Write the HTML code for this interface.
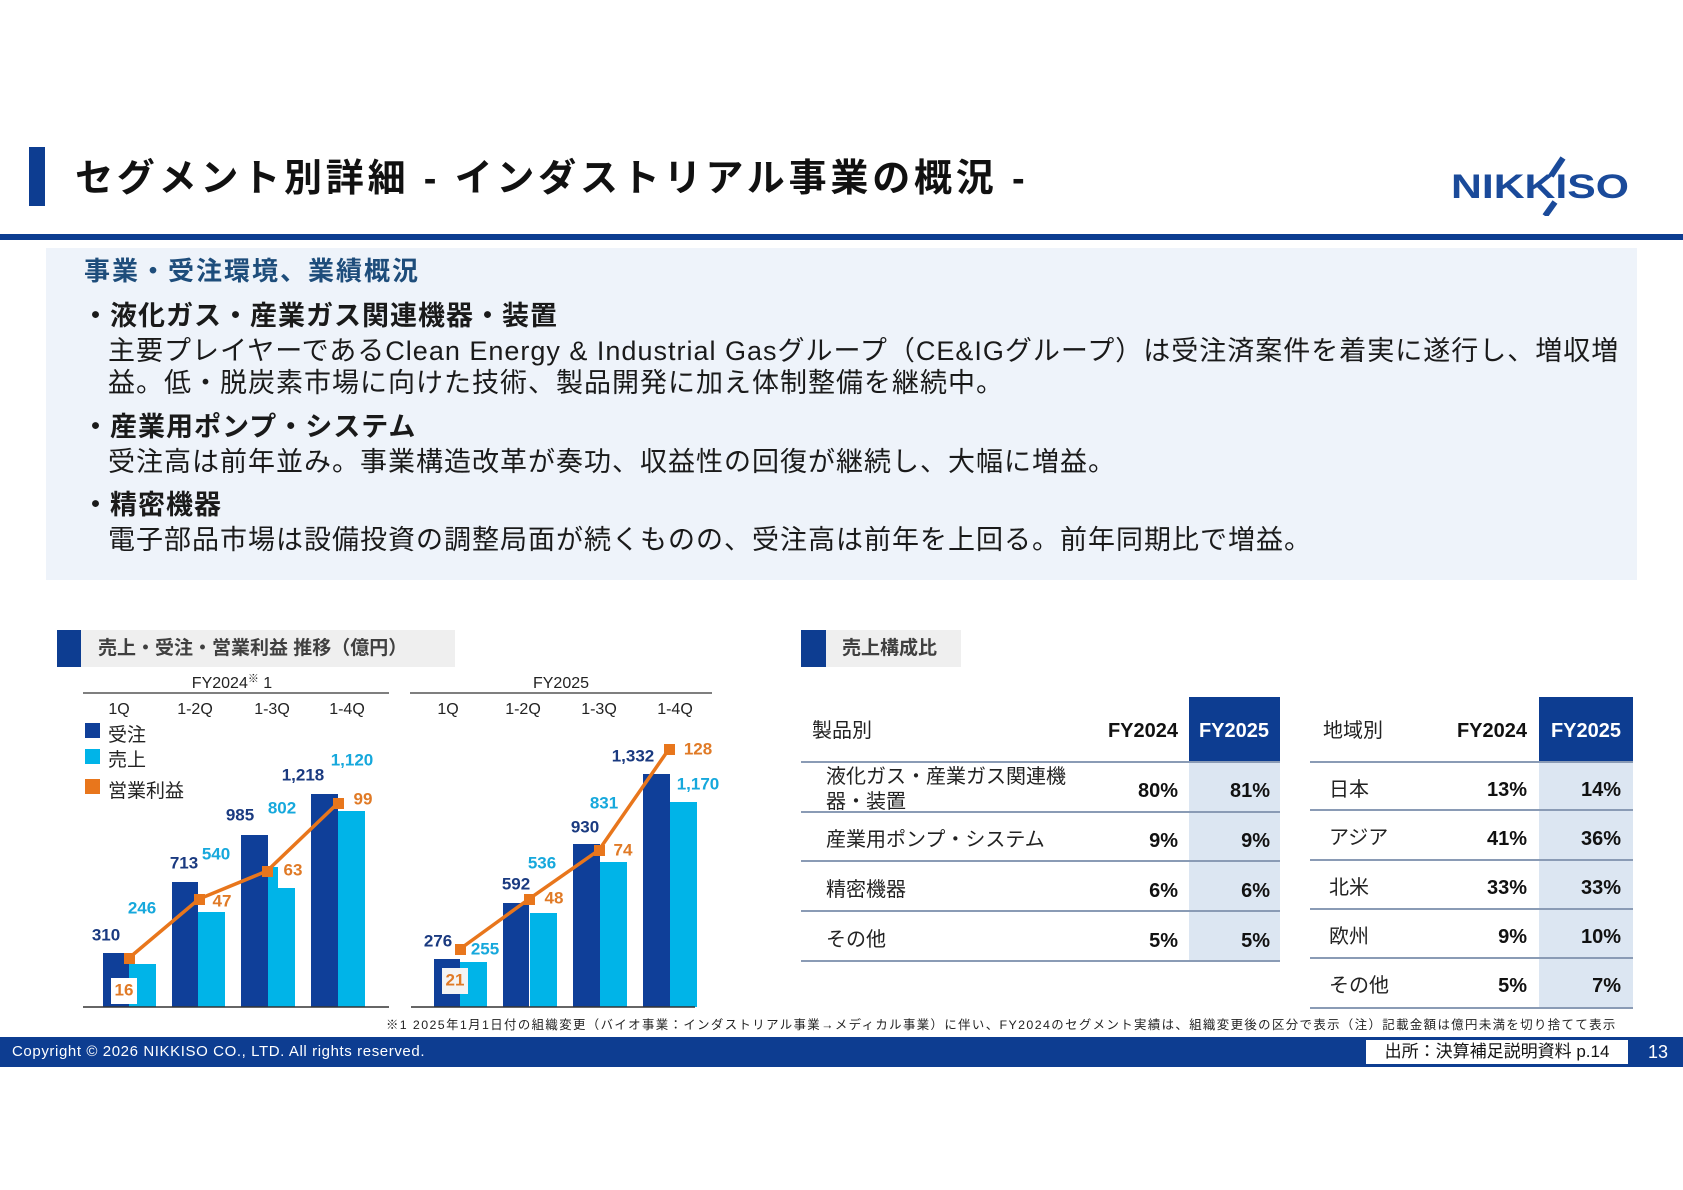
<!DOCTYPE html>
<html><head><meta charset="utf-8">
<style>
*{margin:0;padding:0;box-sizing:border-box}
body{width:1683px;height:1190px;background:#fff;position:relative;overflow:hidden;font-family:"Liberation Sans","Noto Sans CJK JP",sans-serif;color:#1a1a1a}
.a{position:absolute;white-space:nowrap}
.b{font-weight:bold}
</style></head><body>
<div class="a" style="left:29px;top:147px;width:16px;height:59px;background:#0d3d91"></div>
<div class="a b" style="left:75px;top:154px;font-size:38px;line-height:50px;color:#111;letter-spacing:3.8px">セグメント別詳細 - インダストリアル事業の概況 -</div>
<div class="a" style="left:1451px;top:156px;width:180px;height:60px">
<svg width="180" height="60"><text x="0" y="42" font-family="Liberation Sans" font-weight="bold" font-size="34" fill="#1a4a9a" textLength="178" lengthAdjust="spacingAndGlyphs">NIKKISO</text><line x1="112" y1="2" x2="100" y2="20" stroke="#1a4a9a" stroke-width="6"/><line x1="104" y1="46" x2="94" y2="60" stroke="#1a4a9a" stroke-width="6"/></svg></div>
<div class="a" style="left:0;top:234px;width:1683px;height:6px;background:#0d3d91"></div>
<div class="a" style="left:46px;top:248px;width:1591px;height:332px;background:#eef3fa"></div>
<div class="a b" style="left:84px;top:255px;font-size:26px;line-height:32px;color:#1e4d7b;letter-spacing:2px">事業・受注環境、業績概況</div>
<div class="a" style="left:82px;top:300px;font-size:27px;line-height:32px;letter-spacing:1px">
<div class="b" style="position:absolute;top:0">・液化ガス・産業ガス関連機器・装置</div>
<div style="position:absolute;top:35px;left:26px">主要プレイヤーであるClean Energy &amp; Industrial Gasグループ（CE&amp;IGグループ）は受注済案件を着実に遂行し、増収増</div>
<div style="position:absolute;top:67px;left:26px">益。低・脱炭素市場に向けた技術、製品開発に加え体制整備を継続中。</div>
<div class="b" style="position:absolute;top:111px">・産業用ポンプ・システム</div>
<div style="position:absolute;top:146px;left:26px">受注高は前年並み。事業構造改革が奏功、収益性の回復が継続し、大幅に増益。</div>
<div class="b" style="position:absolute;top:189px">・精密機器</div>
<div style="position:absolute;top:224px;left:26px">電子部品市場は設備投資の調整局面が続くものの、受注高は前年を上回る。前年同期比で増益。</div>
</div>
<div class="a" style="left:57px;top:630px;width:398px;height:37px;background:#efefef"></div>
<div class="a" style="left:57px;top:630px;width:24px;height:37px;background:#0d3d91"></div>
<div class="a b" style="left:98px;top:636px;font-size:19px;line-height:25px;color:#404040">売上・受注・営業利益 推移（億円）</div>
<div class="a" style="left:801px;top:630px;width:160px;height:37px;background:#efefef"></div>
<div class="a" style="left:801px;top:630px;width:25px;height:37px;background:#0d3d91"></div>
<div class="a b" style="left:842px;top:636px;font-size:19px;line-height:25px;color:#404040">売上構成比</div>

<svg class="a" style="left:0;top:0" width="760" height="1030" font-family="Liberation Sans, Noto Sans CJK JP, sans-serif">
<g font-size="16" fill="#222" text-anchor="middle">
<text x="232" y="688">FY2024<tspan font-size="11" dy="-6">※</tspan><tspan dy="6"> 1</tspan></text>
<text x="561" y="688">FY2025</text>
<text x="119" y="714">1Q</text><text x="195" y="714">1-2Q</text><text x="272" y="714">1-3Q</text><text x="347" y="714">1-4Q</text>
<text x="448" y="714">1Q</text><text x="523" y="714">1-2Q</text><text x="599" y="714">1-3Q</text><text x="675" y="714">1-4Q</text>
</g>
<line x1="83" y1="693" x2="389" y2="693" stroke="#333" stroke-width="1.3"/>
<line x1="410" y1="693" x2="712" y2="693" stroke="#333" stroke-width="1.3"/>
<rect x="85" y="723" width="15" height="15" fill="#0f3f99"/>
<rect x="85" y="749" width="15" height="15" fill="#00b4e8"/>
<rect x="85" y="779" width="15" height="15" fill="#e8761c"/>
<g font-size="19" fill="#222"><text x="108" y="741">受注</text><text x="108" y="766">売上</text><text x="108" y="797">営業利益</text></g>
<g fill="#0f3f99">
<rect x="103" y="953" width="26" height="54"/><rect x="172" y="882" width="26" height="125"/><rect x="241" y="835" width="27" height="172"/><rect x="311" y="794" width="27" height="213"/>
<rect x="434" y="959" width="26" height="48"/><rect x="503" y="903" width="26" height="104"/><rect x="573" y="844" width="27" height="163"/><rect x="643" y="774" width="27" height="233"/>
</g>
<g fill="#00b4e8">
<rect x="129" y="964" width="27" height="43"/><rect x="198" y="912" width="27" height="95"/><rect x="268" y="867" width="27" height="140"/><rect x="338" y="811" width="27" height="196"/>
<rect x="460" y="962" width="27" height="45"/><rect x="530" y="913" width="27" height="94"/><rect x="600" y="862" width="27" height="145"/><rect x="670" y="802" width="27" height="205"/>
</g>
<line x1="83" y1="1007" x2="389" y2="1007" stroke="#333" stroke-width="1.5"/>
<line x1="411" y1="1007" x2="695" y2="1007" stroke="#333" stroke-width="1.5"/>
<rect x="111" y="978" width="26" height="26" fill="#fff"/>
<rect x="442" y="968" width="26" height="26" fill="#f4f4f4"/>
<rect x="278" y="858" width="28" height="30" fill="#fff"/>
<polyline points="129,958 199,899 267,871 338,803" fill="none" stroke="#e8761c" stroke-width="3.5"/>
<polyline points="460,949 529,899 599,850 669,749" fill="none" stroke="#e8761c" stroke-width="3.5"/>
<g fill="#e8761c">
<rect x="124" y="953" width="11" height="11"/><rect x="194" y="894" width="11" height="11"/><rect x="262" y="866" width="11" height="11"/><rect x="333" y="798" width="11" height="11"/>
<rect x="455" y="944" width="11" height="11"/><rect x="524" y="894" width="11" height="11"/><rect x="594" y="845" width="11" height="11"/><rect x="664" y="744" width="11" height="11"/>
</g>
<g font-size="17" font-weight="bold" text-anchor="middle" dominant-baseline="middle">
<g fill="#1a3a80"><text x="106" y="936">310</text><text x="184" y="864">713</text><text x="240" y="816">985</text><text x="303" y="776">1,218</text>
<text x="438" y="942">276</text><text x="516" y="885">592</text><text x="585" y="828">930</text><text x="633" y="757">1,332</text></g>
<g fill="#16a8dc"><text x="142" y="909">246</text><text x="216" y="855">540</text><text x="282" y="809">802</text><text x="352" y="761">1,120</text>
<text x="485" y="950">255</text><text x="542" y="864">536</text><text x="604" y="804">831</text><text x="698" y="785">1,170</text></g>
<g fill="#e07a26"><text x="124" y="991">16</text><text x="222" y="902">47</text><text x="293" y="871">63</text><text x="363" y="800">99</text>
<text x="455" y="981">21</text><text x="554" y="899">48</text><text x="623" y="851">74</text><text x="698" y="750">128</text></g>
</g>
</svg>

<svg class="a" style="left:790px;top:690px" width="880" height="330" font-family="Liberation Sans, Noto Sans CJK JP, sans-serif" font-size="20">
<rect x="399" y="7" width="91" height="65" fill="#0d3d91"/>
<rect x="399" y="72" width="91" height="199" fill="#dce6f2"/>
<rect x="749" y="7" width="94" height="65" fill="#0d3d91"/>
<rect x="749" y="72" width="94" height="246" fill="#dce6f2"/>
<g stroke="#8a9bb5" stroke-width="2">
<line x1="11" y1="72" x2="490" y2="72"/><line x1="11" y1="122" x2="490" y2="122"/><line x1="11" y1="171" x2="490" y2="171"/><line x1="11" y1="221" x2="490" y2="221"/><line x1="11" y1="271" x2="490" y2="271"/>
<line x1="520" y1="72" x2="843" y2="72"/><line x1="520" y1="120" x2="843" y2="120"/><line x1="520" y1="170" x2="843" y2="170"/><line x1="520" y1="219" x2="843" y2="219"/><line x1="520" y1="268" x2="843" y2="268"/><line x1="520" y1="318" x2="843" y2="318"/>
</g>
<g fill="#222">
<text x="22" y="47">製品別</text><text x="533" y="47">地域別</text>
<text x="36" y="93">液化ガス・産業ガス関連機</text><text x="36" y="118">器・装置</text>
<text x="36" y="156">産業用ポンプ・システム</text><text x="36" y="206">精密機器</text><text x="36" y="256">その他</text>
<text x="539" y="106">日本</text><text x="539" y="154">アジア</text><text x="539" y="204">北米</text><text x="539" y="253">欧州</text><text x="539" y="302">その他</text>
</g>
<g font-weight="bold" text-anchor="end" fill="#111">
<text x="388" y="47">FY2024</text><text x="737" y="47">FY2024</text>
<text x="388" y="107">80%</text><text x="388" y="157">9%</text><text x="388" y="207">6%</text><text x="388" y="257">5%</text>
<text x="480" y="107">81%</text><text x="480" y="157">9%</text><text x="480" y="207">6%</text><text x="480" y="257">5%</text>
<text x="737" y="106">13%</text><text x="737" y="155">41%</text><text x="737" y="204">33%</text><text x="737" y="253">9%</text><text x="737" y="302">5%</text>
<text x="831" y="106">14%</text><text x="831" y="155">36%</text><text x="831" y="204">33%</text><text x="831" y="253">10%</text><text x="831" y="302">7%</text>
</g>
<g font-weight="bold" fill="#fff" text-anchor="middle"><text x="444" y="47">FY2025</text><text x="796" y="47">FY2025</text></g>
</svg>

<div class="a" style="left:386px;top:1017px;font-size:12.4px;line-height:16px;color:#222;letter-spacing:1.4px">※1 2025年1月1日付の組織変更（バイオ事業：インダストリアル事業→メディカル事業）に伴い、FY2024のセグメント実績は、組織変更後の区分で表示（注）記載金額は億円未満を切り捨てて表示</div>
<div class="a" style="left:0;top:1037px;width:1683px;height:30px;background:#0d3d91"></div>
<div class="a" style="left:12px;top:1043px;font-size:15px;line-height:18px;color:#fff;letter-spacing:0.6px">Copyright © 2026 NIKKISO CO., LTD. All rights reserved.</div>
<div class="a" style="left:1366px;top:1040px;width:262px;height:24px;background:#fff;font-size:17px;line-height:24px;text-align:center;color:#111">出所：決算補足説明資料 p.14</div>
<div class="a" style="left:1648px;top:1041px;font-size:18px;line-height:22px;color:#fff">13</div>
</body></html>
